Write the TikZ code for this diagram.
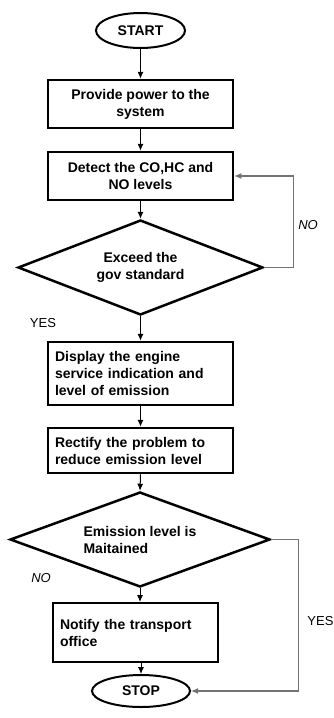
\documentclass[tikz,border=0pt]{standalone}
\usepackage{fontspec}
\setmainfont{Liberation Sans}
\usetikzlibrary{shapes.geometric,arrows.meta,positioning}
\definecolor{loopgray}{rgb}{0.45,0.45,0.45}

\begin{document}
\begin{tikzpicture}[x=1pt,y=-1pt,>={Latex[length=7pt,width=6pt]},
    term/.style={draw,ellipse,line width=2pt,inner sep=0pt,font=\bfseries\fontsize{14}{17}\selectfont},
    procbox/.style={draw,rectangle,line width=2.5pt,minimum width=185,inner sep=0pt,font=\bfseries\fontsize{14}{17}\selectfont},
    leftbox/.style={procbox,inner xsep=7pt,text width=171,align=left},
    decide/.style={draw,diamond,line width=2.5pt,inner sep=0pt,font=\bfseries\fontsize{14}{17}\selectfont},
    lbl/.style={inner sep=0pt,font=\fontsize{13}{15}\selectfont},
    flow/.style={line width=1pt,->},
    loop/.style={loopgray,line width=1.2pt,->}]
            \useasboundingbox (0,0) rectangle (334,718);
            % terminals
            \node[term,minimum width=89,minimum height=35] (start) at (140.5,30.5) {START};
            \node[term,minimum width=98,minimum height=32] (stop) at (141,691) {STOP};

            % steps
            \node[procbox,minimum height=48,align=center] (b1) at (140.5,104) {Provide power to the\\system};
            \node[procbox,minimum height=48,align=center] (b2) at (140.5,176) {Detect the CO,HC and\\NO levels};
            \node[decide,minimum width=245,minimum height=95,aspect=2.58,align=center] (d1) at (140.5,267.5) {Exceed the\\gov standard};
            \node[leftbox,minimum height=63] (b3) at (140.5,373.5) {Display the engine\\service indication and\\level of emission};
            \node[leftbox,minimum height=45] (b4) at (140.5,450.5) {Rectify the problem to\\reduce emission level};
            \node[decide,minimum width=260,minimum height=95,aspect=2.74,align=left] (d2) at (140,539.5) {Emission level is\\Maitained};
            \node[leftbox,minimum width=165,text width=151,minimum height=59,line width=2pt] (b5) at (135.5,632.5) {Notify the transport\\office};

            % labels
            \node[lbl] (no1) at (308,225) {\itshape NO};
            \node[lbl] (yes1) at (43,323) {YES};
            \node[lbl] (no2) at (41,578) {\itshape NO};
            \node[lbl] (yes2) at (320.5,621) {YES};

            % main flow
            \draw[flow] (start.south) -- (b1.north);
            \draw[flow] (b1.south) -- (b2.north);
            \draw[flow] (b2.south) -- (d1.north);
            \draw[flow] (d1.south) -- (b3.north);
            \draw[flow] (b3.south) -- (b4.north);
            \draw[flow] (b4.south) -- (d2.north);
            \draw[flow] (d2.south) -- (d2.south |- b5.north);
            \draw[flow] (b5.south -| stop.north) -- (stop.north);

            % return paths
            \draw[loop] (d1.east) -- ++(29,0) |- (b2.east);
            \draw[loop] (d2.east) -- ++(27,0) |- (stop.east);
\end{tikzpicture}
\end{document}
